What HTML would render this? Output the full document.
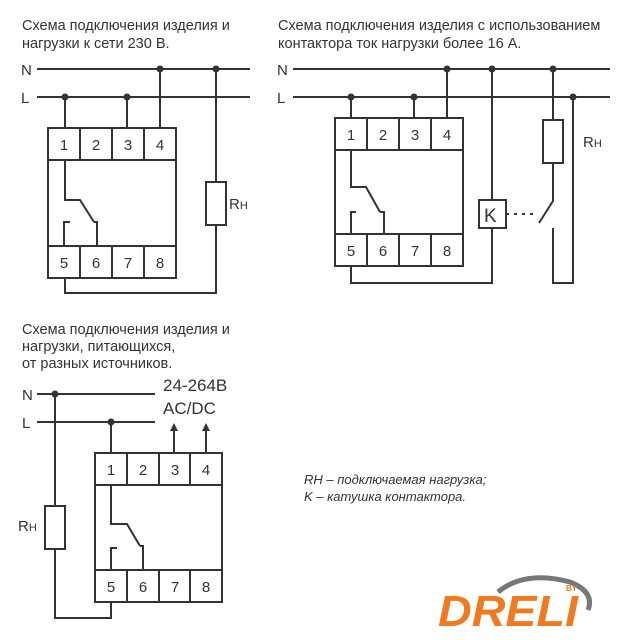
<!DOCTYPE html>
<html><head><meta charset="utf-8"><style>
html,body{margin:0;padding:0;background:#fff;}
svg{display:block;}
text{font-family:"Liberation Sans",sans-serif;fill:#333;}
</style></head><body>
<svg width="637" height="640" viewBox="0 0 637 640" xmlns="http://www.w3.org/2000/svg">
<g font-size="14.5">
<text x="22" y="30">Схема подключения изделия и</text>
<text x="22" y="48">нагрузки к сети 230 В.</text>
<text x="278" y="30">Схема подключения изделия с использованием</text>
<text x="278" y="48">контактора ток нагрузки более 16 А.</text>
<text x="22" y="334">Схема подключения изделия и</text>
<text x="22" y="351">нагрузки, питающихся,</text>
<text x="22" y="368">от разных источников.</text>
</g>
<g stroke="#333" stroke-width="2" fill="none">
<line x1="37" y1="69" x2="250" y2="69"/><line x1="37" y1="97" x2="250" y2="97"/>
<line x1="65" y1="97" x2="65" y2="128"/><line x1="127" y1="97" x2="127" y2="128"/>
<line x1="160" y1="69" x2="160" y2="128"/><line x1="216" y1="69" x2="216" y2="182"/>
<rect x="48" y="128" width="128" height="150"/>
<line x1="48" y1="160" x2="176" y2="160"/><line x1="48" y1="246" x2="176" y2="246"/>
<line x1="80" y1="128" x2="80" y2="160"/><line x1="112" y1="128" x2="112" y2="160"/><line x1="144" y1="128" x2="144" y2="160"/>
<line x1="80" y1="246" x2="80" y2="278"/><line x1="112" y1="246" x2="112" y2="278"/><line x1="144" y1="246" x2="144" y2="278"/>
<polyline points="65,160 65,200 80,200 94,222"/><polyline points="94,222 97,222 97,246"/>
<polyline points="64,246 64,222 70,222"/>
<rect x="206" y="182" width="20" height="43"/>
<polyline points="216,225 216,293 65,293 65,278"/>
<line x1="293" y1="69" x2="610" y2="69"/><line x1="293" y1="97" x2="610" y2="97"/>
<line x1="351" y1="97" x2="351" y2="118"/><line x1="414" y1="97" x2="414" y2="118"/>
<line x1="447" y1="69" x2="447" y2="118"/>
<rect x="335" y="118" width="128" height="148"/>
<line x1="335" y1="150" x2="463" y2="150"/><line x1="335" y1="234" x2="463" y2="234"/>
<line x1="367" y1="118" x2="367" y2="150"/><line x1="399" y1="118" x2="399" y2="150"/><line x1="431" y1="118" x2="431" y2="150"/>
<line x1="367" y1="234" x2="367" y2="266"/><line x1="399" y1="234" x2="399" y2="266"/><line x1="431" y1="234" x2="431" y2="266"/>
<polyline points="351,150 351,187 366,187 380,212"/><polyline points="380,212 384,212 384,234"/>
<polyline points="351,234 351,212 356,212"/>
<line x1="492" y1="69" x2="492" y2="200"/>
<rect x="479" y="200" width="27" height="28"/>
<polyline points="492,228 492,283 351,283 351,266"/>
<line x1="553" y1="69" x2="553" y2="120"/>
<rect x="543" y="120" width="20" height="43"/>
<polyline points="553,163 553,201 539,223"/>
<line x1="506" y1="214" x2="536" y2="214" stroke-dasharray="3,5"/>
<polyline points="553,228 553,283 573,283 573,97"/>
<line x1="37" y1="394" x2="155" y2="394"/><line x1="37" y1="422" x2="155" y2="422"/>
<line x1="55" y1="394" x2="55" y2="506"/>
<rect x="45" y="506" width="20" height="43"/>
<polyline points="55,549 55,618 111,618 111,602"/>
<line x1="111" y1="422" x2="111" y2="453"/>
<rect x="95" y="453" width="127" height="149"/>
<line x1="95" y1="485" x2="222" y2="485"/><line x1="95" y1="570" x2="222" y2="570"/>
<line x1="127" y1="453" x2="127" y2="485"/><line x1="159" y1="453" x2="159" y2="485"/><line x1="190" y1="453" x2="190" y2="485"/>
<line x1="127" y1="570" x2="127" y2="602"/><line x1="159" y1="570" x2="159" y2="602"/><line x1="190" y1="570" x2="190" y2="602"/>
<polyline points="111,485 111,524 127,524 140,546"/><polyline points="140,546 143,546 143,570"/>
<polyline points="111,570 111,548 117,548"/>
<line x1="174" y1="453" x2="174" y2="430"/><line x1="206" y1="453" x2="206" y2="430"/>
</g>
<g fill="#333">
<circle cx="65" cy="97" r="3.5"/><circle cx="127" cy="97" r="3.5"/><circle cx="160" cy="69" r="3.5"/><circle cx="216" cy="69" r="3.5"/>
<circle cx="351" cy="97" r="3.5"/><circle cx="414" cy="97" r="3.5"/><circle cx="447" cy="69" r="3.5"/><circle cx="492" cy="69" r="3.5"/><circle cx="553" cy="69" r="3.5"/><circle cx="573" cy="97" r="3.5"/>
<circle cx="55" cy="394" r="3.5"/><circle cx="111" cy="422" r="3.5"/>
<polygon points="174,423 170,431 178,431"/><polygon points="206,423 202,431 210,431"/>
</g>
<g font-size="15" text-anchor="middle">
<text x="64" y="150">1</text><text x="96" y="150">2</text><text x="128" y="150">3</text><text x="160" y="150">4</text>
<text x="64" y="268">5</text><text x="96" y="268">6</text><text x="128" y="268">7</text><text x="160" y="268">8</text>
<text x="351" y="140">1</text><text x="383" y="140">2</text><text x="415" y="140">3</text><text x="447" y="140">4</text>
<text x="351" y="256">5</text><text x="383" y="256">6</text><text x="415" y="256">7</text><text x="447" y="256">8</text>
<text x="111" y="475">1</text><text x="143" y="475">2</text><text x="175" y="475">3</text><text x="206" y="475">4</text>
<text x="111" y="592">5</text><text x="143" y="592">6</text><text x="175" y="592">7</text><text x="206" y="592">8</text>
</g>
<g font-size="15">
<text x="21" y="75">N</text><text x="21" y="103">L</text>
<text x="277" y="75">N</text><text x="277" y="103">L</text>
<text x="22" y="400">N</text><text x="22" y="428">L</text>
<text x="229" y="209">R<tspan font-size="11">H</tspan></text>
<text x="583" y="147">R<tspan font-size="11">H</tspan></text>
<text x="18" y="531">R<tspan font-size="11">H</tspan></text>
<text x="484" y="222" font-size="19">K</text>
<text x="163" y="391" font-size="17">24-264В</text>
<text x="163" y="414" font-size="17">AC/DC</text>
</g>
<g font-size="13" font-style="italic">
<text x="304" y="484">RH – подключаемая нагрузка;</text>
<text x="304" y="501">K – катушка контактора.</text>
</g>
<path d="M498 592 Q525 570 570 582 Q595 592 588 610" stroke="#777" stroke-width="5" fill="none"/>
<text x="438" y="626" font-size="44" font-weight="bold" font-style="italic" textLength="140" lengthAdjust="spacingAndGlyphs" style="fill:#f07a20">DRELI</text>
<text x="566" y="591" font-size="8" font-weight="bold" style="fill:#f07a20">BY</text>
</svg>
</body></html>
